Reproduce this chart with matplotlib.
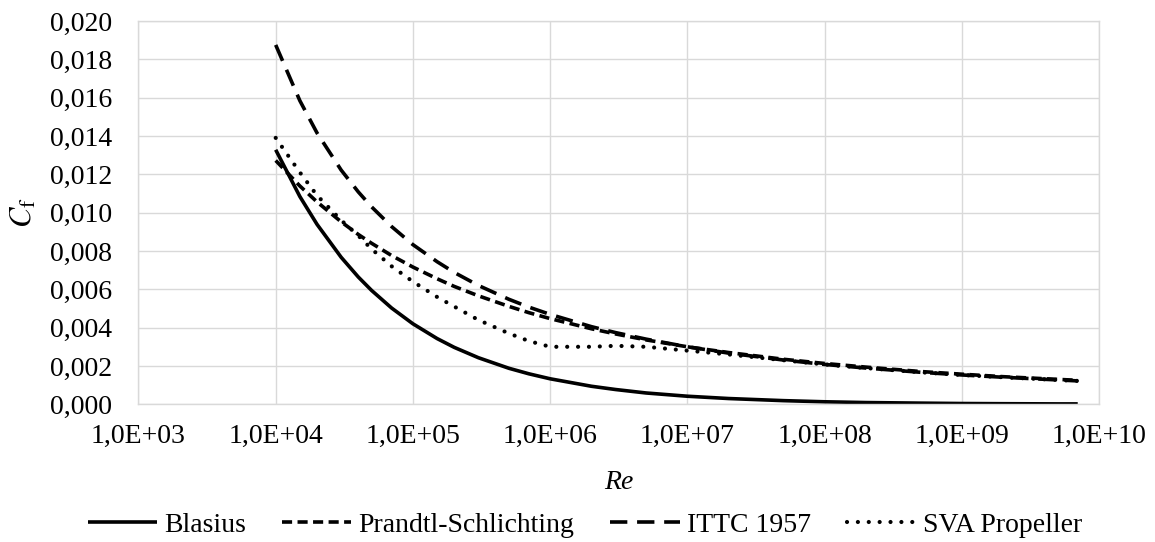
import math
import matplotlib
matplotlib.use('Agg')
import matplotlib.pyplot as plt
from matplotlib.ticker import FixedLocator, FuncFormatter, NullLocator

plt.rcParams['font.family'] = ['Liberation Serif', 'DejaVu Serif']
plt.rcParams['mathtext.fontset'] = 'stix'

# Reynolds numbers
Re = [1e4, 1.5e4, 2e4, 3e4, 4e4, 5e4, 7e4, 1e5, 1.5e5, 2e5, 3e5, 5e5, 7e5,
      1e6, 2e6, 3e6, 5e6, 1e7, 2e7, 5e7, 1e8, 2e8, 5e8, 1e9, 2e9, 5e9, 7e9]

blasius = [0.01328, 0.01084, 0.00939, 0.00767, 0.00664, 0.00594, 0.00502,
           0.00420, 0.00343, 0.00297, 0.00243, 0.00188, 0.00159, 0.00133,
           0.00094, 0.00077, 0.00059, 0.00042, 0.00030, 0.00019, 0.00013,
           0.00009, 0.00006, 0.00004, 0.00003, 0.00002, 0.00002]

prandtl = [0.01272, 0.01139, 0.01056, 0.00952, 0.00886, 0.00840, 0.00776,
           0.00716, 0.00655, 0.00615, 0.00566, 0.00511, 0.00478, 0.00447,
           0.00394, 0.00367, 0.00336, 0.00300, 0.00270, 0.00235, 0.00213,
           0.00194, 0.00171, 0.00157, 0.00144, 0.00130, 0.00125]

ittc = [0.01875, 0.01584, 0.01416, 0.01222, 0.01108, 0.01030, 0.00927,
        0.00833, 0.00744, 0.00688, 0.00620, 0.00548, 0.00507, 0.00469,
        0.00405, 0.00374, 0.00340, 0.00300, 0.00267, 0.00231, 0.00208,
        0.00189, 0.00167, 0.00153, 0.00141, 0.00127, 0.00122]

sva = [0.01390, 0.01210, 0.01090, 0.00960, 0.00880, 0.00810, 0.00720,
       0.00640, 0.00560, 0.00510, 0.00440, 0.00370, 0.00330, 0.00300,
       0.00300, 0.00305, 0.00300, 0.00280, 0.00260, 0.00230, 0.00208,
       0.00189, 0.00167, 0.00153, 0.00141, 0.00127, 0.00122]

x_ticks = [1e3, 1e4, 1e5, 1e6, 1e7, 1e8, 1e9, 1e10]
y_ticks = [0.000, 0.002, 0.004, 0.006, 0.008, 0.010, 0.012, 0.014, 0.016, 0.018, 0.020]

fig = plt.figure(figsize=(11.55, 5.42), dpi=100)
ax = fig.add_axes([0.1199, 0.2541, 0.8316, 0.7072])

lw = 2.6
ax.plot(Re, blasius, color='black', lw=lw, solid_capstyle='butt', label='Blasius')
ax.plot(Re, prandtl, color='black', lw=lw, linestyle=(0, (2.8, 1.5)), label='Prandtl-Schlichting')
ax.plot(Re, ittc, color='black', lw=lw, linestyle=(0, (4.8, 2.7)), label='ITTC 1957')
ax.plot(Re, sva, color='black', lw=3.0, linestyle=(0, (0.01, 2.6)), dash_capstyle='round',
        label='SVA Propeller')

ax.set_xscale('log')
ax.set_xlim(1e3, 1e10)
ax.set_ylim(0, 0.020)
ax.xaxis.set_major_locator(FixedLocator(x_ticks))
ax.xaxis.set_minor_locator(NullLocator())
ax.xaxis.set_major_formatter(FuncFormatter(lambda v, p: '1,0E+%02d' % round(math.log10(v))))
ax.yaxis.set_major_locator(FixedLocator(y_ticks))
ax.yaxis.set_major_formatter(FuncFormatter(lambda v, p: ('%.3f' % v).replace('.', ',')))

ax.grid(True, color='#d9d9d9', lw=1.0)
ax.set_axisbelow(True)
for s in ax.spines.values():
    s.set_color('#d9d9d9')
    s.set_linewidth(1.0)
ax.tick_params(axis='both', length=0, labelsize=20)
ax.tick_params(axis='x', pad=14)
ax.tick_params(axis='y', pad=19)

ax.set_xlabel('Re', fontsize=20, style='italic', labelpad=15)
ax.set_ylabel(r'$C_\mathrm{f}$', fontsize=22, labelpad=8)

fig.legend(loc='center', bbox_to_anchor=(585 / 1155, 1 - 525 / 542), ncol=4, frameon=False,
           fontsize=20, handlelength=2.5, handletextpad=0.25, columnspacing=1.3,
           borderpad=0)

fig.savefig('out.png', dpi=100)
